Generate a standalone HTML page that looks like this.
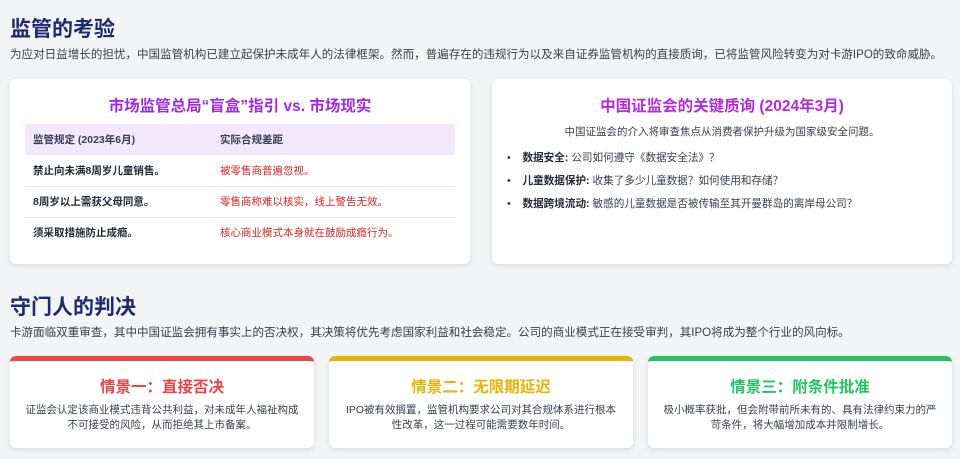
<!DOCTYPE html>
<html><head><meta charset="utf-8"><style>
*{margin:0;padding:0;box-sizing:border-box}
body{width:960px;height:459px;background:#f3f4f6;font-family:"Liberation Sans","Noto Sans CJK SC",sans-serif;color:#374151;position:relative;overflow:hidden}
.h{position:absolute;left:10px;font-size:21px;font-weight:bold;color:#1e2a6e}
.p{position:absolute;left:10px;font-size:11.55px;color:#374151;white-space:nowrap}
.card{position:absolute;background:#fff;border-radius:6px;box-shadow:0 2px 6px rgba(0,0,0,.1)}
.ct{position:absolute;left:0;right:0;text-align:center;font-weight:bold;font-size:15.5px}
table{position:absolute;left:15px;top:45px;width:430px;border-collapse:collapse;font-size:10.5px}
td{height:31px;padding-left:8px;border-bottom:1px solid #e5e7eb;font-weight:bold;color:#1f2937}
td.r{color:#dc2626;font-weight:normal}
tr.hd td{background:#f3e8ff;border:none;color:#374151}
.li{position:absolute;left:15px;font-size:10.6px;white-space:nowrap}
.li b{color:#1f2937}
.sc{position:absolute;top:356px;width:304px;height:92px;background:#fff;border-radius:6px;box-shadow:0 2px 6px rgba(0,0,0,.1);border-top:5px solid;text-align:center}
.sc .t{margin-top:14px;font-size:15.5px;font-weight:bold}
.sc .d{margin:6px auto 0;width:275px;font-size:10.5px;line-height:15px;color:#374151}
</style></head><body>
<div class="h" style="top:13px">监管的考验</div>
<div class="p" style="top:46px">为应对日益增长的担忧，中国监管机构已建立起保护未成年人的法律框架。然而，普遍存在的违规行为以及来自证券监管机构的直接质询，已将监管风险转变为对卡游IPO的致命威胁。</div>
<div class="card" style="left:10px;top:79px;width:460px;height:185px">
<div class="ct" style="top:15px;color:#a229e6">市场监管总局“盲盒”指引 vs. 市场现实</div>
<table>
<tr class="hd"><td style="width:187px">监管规定 (2023年6月)</td><td>实际合规差距</td></tr>
<tr><td>禁止向未满8周岁儿童销售。</td><td class="r">被零售商普遍忽视。</td></tr>
<tr><td>8周岁以上需获父母同意。</td><td class="r">零售商称难以核实，线上警告无效。</td></tr>
<tr><td style="border:none">须采取措施防止成瘾。</td><td class="r" style="border:none">核心商业模式本身就在鼓励成瘾行为。</td></tr>
</table>
</div>
<div class="card" style="left:492px;top:79px;width:460px;height:185px">
<div class="ct" style="top:15px;color:#b62be0">中国证监会的关键质询 (2024年3月)</div>
<div style="position:absolute;top:45px;left:0;right:0;text-align:center;font-size:10.5px">中国证监会的介入将审查焦点从消费者保护升级为国家级安全问题。</div>
<div class="li" style="top:71px">•&nbsp;&nbsp;&nbsp;&nbsp;<b>数据安全:</b> 公司如何遵守《数据安全法》？</div>
<div class="li" style="top:94px">•&nbsp;&nbsp;&nbsp;&nbsp;<b>儿童数据保护:</b> 收集了多少儿童数据？如何使用和存储？</div>
<div class="li" style="top:117px">•&nbsp;&nbsp;&nbsp;&nbsp;<b>数据跨境流动:</b> 敏感的儿童数据是否被传输至其开曼群岛的离岸母公司？</div>
</div>
<div class="h" style="top:291px">守门人的判决</div>
<div class="p" style="top:324px">卡游面临双重审查，其中中国证监会拥有事实上的否决权，其决策将优先考虑国家利益和社会稳定。公司的商业模式正在接受审判，其IPO将成为整个行业的风向标。</div>
<div class="sc" style="left:10px;border-color:#ef4444"><div class="t" style="color:#ef4444">情景一：直接否决</div><div class="d">证监会认定该商业模式违背公共利益，对未成年人福祉构成不可接受的风险，从而拒绝其上市备案。</div></div>
<div class="sc" style="left:329px;border-color:#eab308"><div class="t" style="color:#eab308">情景二：无限期延迟</div><div class="d">IPO被有效搁置，监管机构要求公司对其合规体系进行根本性改革，这一过程可能需要数年时间。</div></div>
<div class="sc" style="left:648px;border-color:#22c55e"><div class="t" style="color:#22c55e">情景三：附条件批准</div><div class="d">极小概率获批，但会附带前所未有的、具有法律约束力的严苛条件，将大幅增加成本并限制增长。</div></div>
</body></html>
